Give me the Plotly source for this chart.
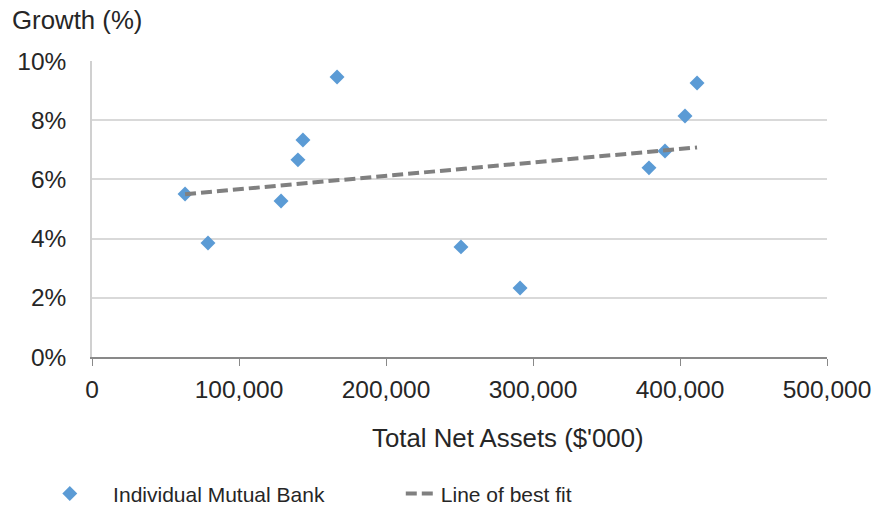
import plotly.graph_objects as go

# Total net assets ($'000) and growth (%) per mutual bank
total_net_assets = [63300, 78900, 128600, 140100, 143500, 166700,
                    251000, 291200, 378900, 389800, 403400, 411600]
growth_pct = [5.51, 3.85, 5.27, 6.66, 7.33, 9.46,
              3.72, 2.33, 6.39, 6.96, 8.14, 9.26]

# Line of best fit end points
fit_x = [63300, 411600]
fit_y = [5.50, 7.08]

y_ticks = [0, 2, 4, 6, 8, 10]
y_tick_labels = ["0%", "2%", "4%", "6%", "8%", "10%"]
x_ticks = [0, 100000, 200000, 300000, 400000, 500000]

FONT = "Liberation Sans, Arial, sans-serif"
TEXT = "#262626"

fig = go.Figure()
fig.add_trace(go.Scatter(
    x=total_net_assets, y=growth_pct, mode="markers",
    name="    Individual Mutual Bank",
    marker=dict(symbol="diamond", size=11.5, color="#5B9BD5",
                line=dict(width=0)),
))
fig.add_trace(go.Scatter(
    x=fit_x, y=fit_y, mode="lines", name="Line of best fit",
    line=dict(color="#808080", width=4, dash="11px,5px"),
))

fig.update_layout(
    width=889, height=507,
    margin=dict(l=92, r=62, t=61, b=150),
    paper_bgcolor="white", plot_bgcolor="white",
    font=dict(family=FONT, size=21, color=TEXT),
    showlegend=True,
    legend=dict(orientation="h", x=0.056, xref="container", xanchor="left",
                y=0.026, yref="container", yanchor="middle",
                font=dict(size=21, color=TEXT),
                entrywidth=306, entrywidthmode="pixels"),
    xaxis=dict(range=[0, 500000], tickvals=x_ticks, tickformat=",",
               showgrid=False, zeroline=False,
               showline=True, linecolor="#898989", linewidth=1.5,
               ticks="outside", ticklen=7, tickcolor="#898989",
               ticklabelstandoff=3,
               tickfont=dict(size=24.5, color=TEXT)),
    yaxis=dict(range=[0, 10], tickvals=y_ticks, ticktext=y_tick_labels,
               showgrid=True, gridcolor="#D9D9D9", gridwidth=1.5,
               zeroline=False, showline=True, linecolor="#D0D0D0",
               linewidth=1.5, ticks="", ticklabelstandoff=19,
               tickfont=dict(size=24.5, color=TEXT)),
    annotations=[
        dict(text="Growth (%)", xref="paper", yref="paper",
             x=-0.1115, y=1.1385, xanchor="left", yanchor="middle",
             showarrow=False, font=dict(size=25.8, color=TEXT)),
        dict(text="Total Net Assets ($'000)", xref="paper", yref="paper",
             x=0.566, y=-0.2736, xanchor="center", yanchor="middle",
             showarrow=False, font=dict(size=25.8, color=TEXT)),
    ],
)

fig.write_html("out.html")
